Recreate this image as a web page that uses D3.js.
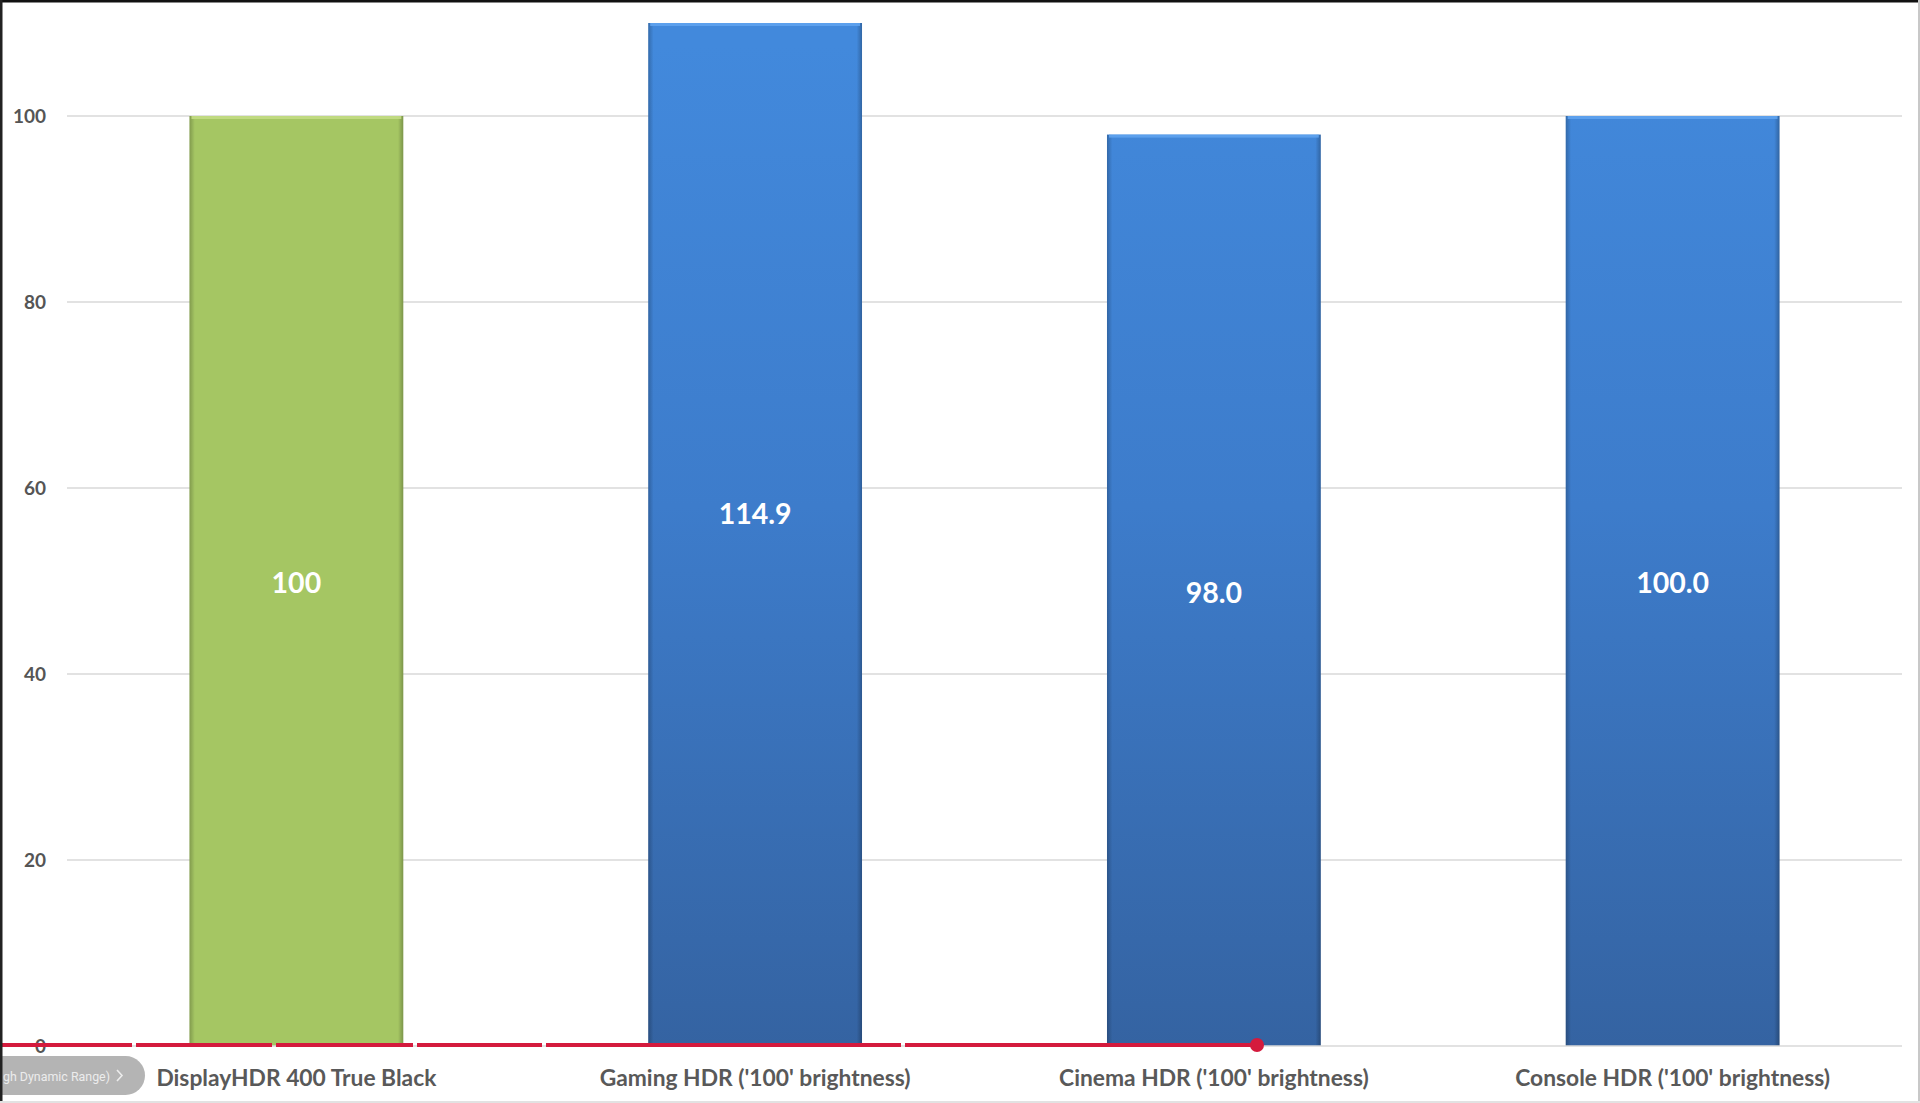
<!DOCTYPE html>
<html>
<head>
<meta charset="utf-8">
<script src="https://cdn.jsdelivr.net/npm/d3@7"></script>
<style>
  html, body { margin: 0; padding: 0; background: #fff; overflow: hidden; }
  svg { display: block; }
</style>
</head>
<body>
<div id="chart"></div>
<script>
// data
var categories = ["DisplayHDR 400 True Black", "Gaming HDR ('100' brightness)", "Cinema HDR ('100' brightness)", "Console HDR ('100' brightness)"];
var values = [100, 114.9, 98.0, 100.0];
var valueLabels = ["100", "114.9", "98.0", "100.0"];
var isReference = [true, false, false, false];
var yTicks = [0, 20, 40, 60, 80, 100];

// video player overlay (progress bar drawn over the screenshot)
var progressEnd = 1257;
var progressGaps = [134, 274, 415, 544, 903];
var pillText = "gh Dynamic Range)";

var W = 1920, H = 1103;
var margin = { left: 67, right: 18, top: 23, bottom: 57 };
var width = W - margin.left - margin.right,
    height = H - margin.top - margin.bottom;

var svg = d3.select("#chart")
  .append("svg")
    .attr("width", W)
    .attr("height", H);

var defs = svg.append("defs");

var blue = defs.append("linearGradient")
    .attr("id", "blueGrad")
    .attr("gradientUnits", "userSpaceOnUse")
    .attr("x1", 0).attr("y1", margin.top)
    .attr("x2", 0).attr("y2", margin.top + height);
blue.append("stop").attr("offset", "0%").attr("stop-color", "#4289dc");
blue.append("stop").attr("offset", "45%").attr("stop-color", "#3d7ccb");
blue.append("stop").attr("offset", "100%").attr("stop-color", "#3462a0");

// darker sides to fake the bevel
var side = defs.append("linearGradient")
    .attr("id", "sideGrad")
    .attr("x1", 0).attr("y1", 0).attr("x2", 1).attr("y2", 0);
side.append("stop").attr("offset", "0%").attr("stop-color", "#000").attr("stop-opacity", 0.22);
side.append("stop").attr("offset", "2.5%").attr("stop-color", "#000").attr("stop-opacity", 0.0);
side.append("stop").attr("offset", "97.5%").attr("stop-color", "#000").attr("stop-opacity", 0.0);
side.append("stop").attr("offset", "100%").attr("stop-color", "#000").attr("stop-opacity", 0.25);

defs.append("clipPath").attr("id", "plotClip")
  .append("rect")
    .attr("x", -margin.left).attr("y", 0)
    .attr("width", W).attr("height", height + 2);

var g = svg.append("g")
    .attr("transform", "translate(" + margin.left + "," + margin.top + ")");

// X Scale
var x = d3.scaleBand()
    .domain(categories)
    .range([0, width])
    .paddingInner(0.534)
    .paddingOuter(0.267);

// Y Scale (the screenshot cuts the plot off at 110)
var y = d3.scaleLinear()
    .domain([0, 110])
    .range([height, 0]);

// gridlines
g.selectAll(".grid")
  .data(yTicks.filter(function(d){ return d > 0; }))
  .enter().append("line")
    .attr("class", "grid")
    .attr("x1", 0).attr("x2", width)
    .attr("y1", function(d){ return y(d); })
    .attr("y2", function(d){ return y(d); })
    .attr("stroke", "#d9d9d9")
    .attr("stroke-width", 1.5);

// Y Axis
var yAxisGroup = g.append("g")
    .attr("class", "y axis")
    .call(d3.axisLeft(y).tickValues(yTicks).tickSize(0).tickPadding(21));
yAxisGroup.select(".domain").remove();
yAxisGroup.selectAll("text")
    .attr("font-family", "Lato, 'Open Sans', sans-serif")
    .attr("font-weight", "bold")
    .attr("font-size", "19px")
    .attr("fill", "#555555");

var rows = categories.map(function(c, i) {
  return { cat: c, value: values[i], label: valueLabels[i], ref: isReference[i] };
});

var bars = g.append("g").attr("clip-path", "url(#plotClip)");

bars.selectAll(".bar")
  .data(rows)
  .enter().append("rect")
    .attr("class", "bar")
    .attr("x", function(d){ return x(d.cat); })
    .attr("y", function(d){ return y(d.value); })
    .attr("width", x.bandwidth())
    .attr("height", function(d){ return height - y(d.value); })
    .attr("fill", function(d){ return d.ref ? "#a5c663" : "url(#blueGrad)"; });

bars.selectAll(".bevel")
  .data(rows)
  .enter().append("rect")
    .attr("class", "bevel")
    .attr("x", function(d){ return x(d.cat); })
    .attr("y", function(d){ return y(d.value); })
    .attr("width", x.bandwidth())
    .attr("height", function(d){ return height - y(d.value); })
    .attr("fill", "url(#sideGrad)");

// light top edge, drawn where the bar top is visible
bars.selectAll(".topEdge")
  .data(rows)
  .enter().append("rect")
    .attr("class", "topEdge")
    .attr("x", function(d){ return x(d.cat) + 2; })
    .attr("y", function(d){ return Math.max(y(d.value), 0); })
    .attr("width", x.bandwidth() - 4)
    .attr("height", 3)
    .attr("fill", function(d){ return d.ref ? "#c3dc84" : "#5fa3ee"; })
    .attr("opacity", 0.9);

// x axis baseline
g.append("line")
    .attr("x1", 0).attr("x2", width)
    .attr("y1", y(0)).attr("y2", y(0))
    .attr("stroke", "#d9d9d9")
    .attr("stroke-width", 1.5);

// value labels sit in the middle of the full bar
g.selectAll(".vlabel")
  .data(rows)
  .enter().append("text")
    .attr("class", "vlabel")
    .attr("x", function(d){ return x(d.cat) + x.bandwidth() / 2; })
    .attr("y", function(d){ return (y(d.value) + y(0)) / 2 + 2; })
    .attr("dy", "0.36em")
    .attr("text-anchor", "middle")
    .attr("font-family", "Lato, 'Open Sans', sans-serif")
    .attr("font-weight", "bold")
    .attr("font-size", "28.5px")
    .attr("fill", "#ffffff")
    .text(function(d){ return d.label; });

// X Axis labels
var xAxisGroup = g.append("g")
    .attr("class", "x axis")
    .attr("transform", "translate(0," + height + ")")
    .call(d3.axisBottom(x).tickSize(0).tickPadding(24));
xAxisGroup.select(".domain").remove();
xAxisGroup.selectAll("text")
    .attr("font-family", "Lato, 'Open Sans', sans-serif")
    .attr("font-weight", "bold")
    .attr("font-size", "22.8px")
    .attr("fill", "#595959");

// --- player overlay ---
var overlay = svg.append("g");
var cuts = [0].concat(progressGaps).concat([progressEnd]);
var segs = d3.pairs(cuts).map(function(p, i) {
  return { x0: p[0] + (i > 0 ? 2 : 0), x1: p[1] - (i < cuts.length - 2 ? 2 : 0) };
});
var barY = margin.top + y(0) - 1;
overlay.selectAll(".seg")
  .data(segs)
  .enter().append("rect")
    .attr("class", "seg")
    .attr("x", function(d){ return d.x0; })
    .attr("y", barY - 2)
    .attr("width", function(d){ return d.x1 - d.x0; })
    .attr("height", 4)
    .attr("fill", "#d41a3d");
overlay.append("circle")
    .attr("cx", progressEnd)
    .attr("cy", barY)
    .attr("r", 7)
    .attr("fill", "#d41a3d");

// chapter pill bottom-left
overlay.append("rect")
    .attr("x", -40).attr("y", 1056)
    .attr("width", 185).attr("height", 39)
    .attr("rx", 19.5)
    .attr("fill", "#b4b4b4");
overlay.append("text")
    .attr("x", 3).attr("y", 1081)
    .attr("font-family", "Roboto, sans-serif")
    .attr("font-size", "13px")
    .attr("textLength", 107)
    .attr("lengthAdjust", "spacingAndGlyphs")
    .attr("fill", "#ececec")
    .text(pillText);
overlay.append("path")
    .attr("d", "M117,1070 L122,1075.5 L117,1081")
    .attr("fill", "none")
    .attr("stroke", "#ececec")
    .attr("stroke-width", 1.6);

// screenshot frame
svg.append("rect").attr("x", 0).attr("y", 0).attr("width", W).attr("height", 2.5).attr("fill", "#111");
svg.append("rect").attr("x", 0).attr("y", 0).attr("width", 2.5).attr("height", H).attr("fill", "#222");
svg.append("rect").attr("x", W - 2).attr("y", 0).attr("width", 2).attr("height", H).attr("fill", "#c8c8c8");
svg.append("rect").attr("x", 0).attr("y", H - 2).attr("width", W).attr("height", 2).attr("fill", "#e2e2e2");
</script>
</body>
</html>
